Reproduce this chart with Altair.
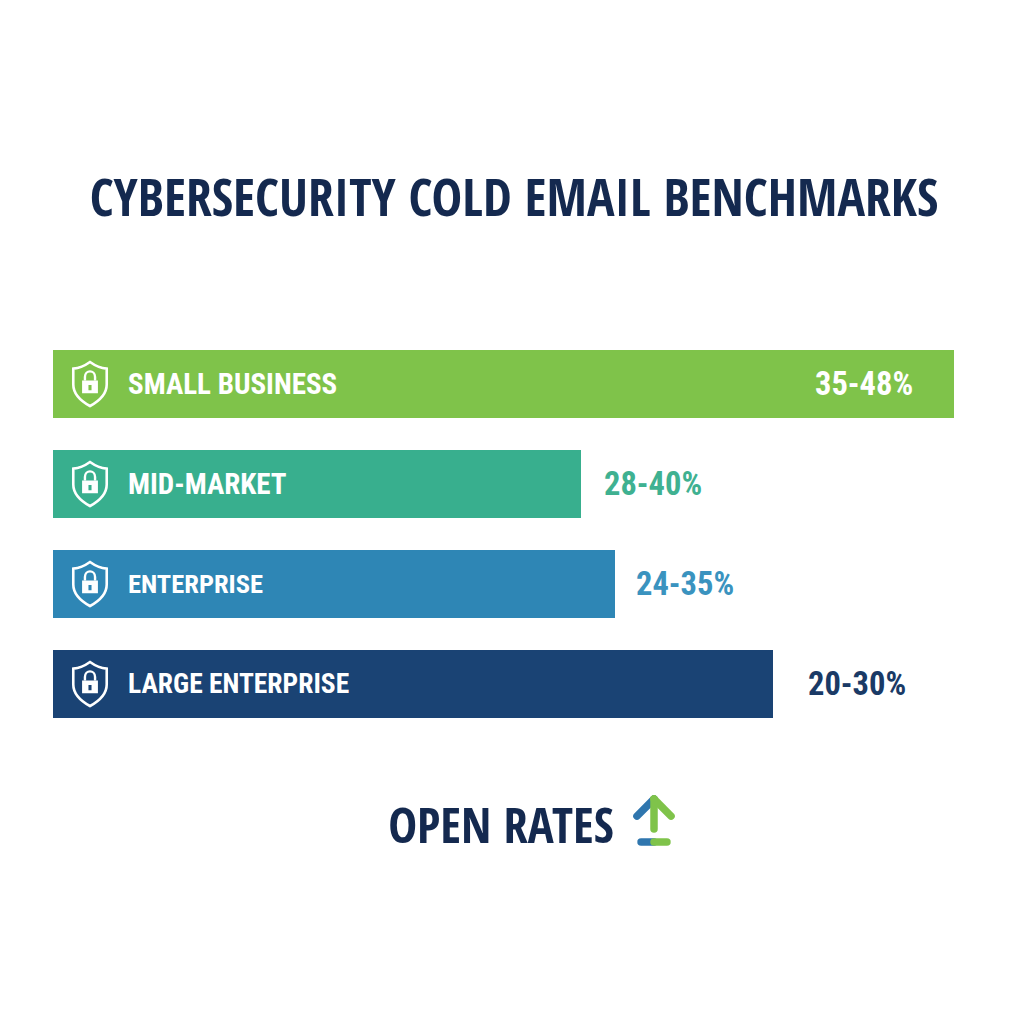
import altair as alt
import pandas as pd

# --- data ---
categories = ["SMALL BUSINESS", "MID-MARKET", "ENTERPRISE", "LARGE ENTERPRISE"]
bar_lengths = [901, 528, 562, 720]
range_labels = ["35-48%", "28-40%", "24-35%", "20-30%"]
title_text = "CYBERSECURITY COLD EMAIL BENCHMARKS"
footer_text = "OPEN RATES"

# --- styling ---
bar_colors = ["#7FC34A", "#38AF8E", "#2E86B5", "#1A4374"]
label_colors = ["#FFFFFF", "#3FB191", "#3A93BF", "#1A3A66"]
name_sizes = [29, 29, 26.5, 27.5]
label_dx = [-139, 23, 21, 35]
NAVY = "#14294F"
BLUE = "#2F76AE"
GREEN = "#7FC34A"
FONT = "Roboto Condensed"
HEAD_FONT = "Open Sans Condensed"
W = H = 1008
X0 = 45

SHIELD = ("M0,-1 C0.25,-0.82 0.5,-0.72 0.76,-0.7 L0.76,0.02 "
          "C0.76,0.45 0.4,0.78 0,1 C-0.4,0.78 -0.76,0.45 -0.76,0.02 L-0.76,-0.7 "
          "C-0.5,-0.72 -0.25,-0.82 0,-1 Z")
LOCK = ("M-0.36,-0.16 L0.36,-0.16 L0.36,0.42 L-0.36,0.42 Z "
        "M-0.07,0.04 L-0.07,0.28 L0.07,0.28 L0.07,0.04 Z")
SHACKLE = "M-0.23,-0.16 L-0.23,-0.32 C-0.23,-0.66 0.23,-0.66 0.23,-0.32 L0.23,-0.16"
ARROW_LEFT = "M-0.71,-0.29 L0,-1"
ARROW_RIGHT = "M0.71,-0.29 L0,-1"
ARROW_STEM = "M0,-1 L0,0.25"
BASE_LEFT = "M-0.54,0.79 L0,0.79"
BASE_RIGHT = "M0,0.79 L0.54,0.79"

df = pd.DataFrame({"category": categories, "length": bar_lengths, "label": range_labels})

x_scale = alt.Scale(domain=[-X0, W - X0], range=[0, W], nice=False, zero=False)
y_enc = alt.Y("category:N", sort=categories, axis=None,
              scale=alt.Scale(domain=categories, range=[342, 710], paddingInner=0.32, paddingOuter=0))

base = alt.Chart(df).properties(width=W, height=H)

bars = base.mark_bar(cornerRadius=0).encode(
    x=alt.X("zero:Q", scale=x_scale, axis=None),
    x2="length:Q",
    y=y_enc,
    color=alt.Color("category:N", sort=categories, legend=None,
                    scale=alt.Scale(domain=categories, range=bar_colors)),
).transform_calculate(zero="0")

name_layers = []
for i, cat in enumerate(categories):
    name_layers.append(
        base.transform_filter(alt.datum.category == cat)
        .mark_text(align="left", baseline="middle", font=FONT, fontSize=name_sizes[i],
                   fontWeight="bold", color="#FFFFFF", dy=1)
        .encode(x=alt.value(120), y=y_enc, text="category:N")
    )


def icon(path, **kw):
    return base.mark_point(shape=path, size=1936, **kw).encode(x=alt.value(82), y=y_enc)


shield = icon(SHIELD, filled=False, stroke="#FFFFFF", strokeWidth=2.6, opacity=1)
lock = icon(LOCK, filled=True, fill="#FFFFFF", opacity=1)
shackle = icon(SHACKLE, filled=False, stroke="#FFFFFF", strokeWidth=2.4, opacity=1)

value_layers = []
for i, cat in enumerate(categories):
    value_layers.append(
        base.transform_filter(alt.datum.category == cat)
        .mark_text(align="left", baseline="middle", font=FONT, fontSize=32.5,
                   fontWeight="bold", color=label_colors[i], dx=label_dx[i], dy=1)
        .encode(x=alt.X("length:Q", scale=x_scale, axis=None), y=y_enc, text="label:N")
    )

one = pd.DataFrame({"t": [title_text], "f": [footer_text]})
title = alt.Chart(one).mark_text(align="center", baseline="middle", font=HEAD_FONT, fontSize=51.6,
                                 fontWeight="bold", color=NAVY).encode(
    x=alt.value(506), y=alt.value(193), text="t:N")
footer = alt.Chart(one).mark_text(align="center", baseline="middle", font=HEAD_FONT, fontSize=48.6,
                                  fontWeight="bold", color=NAVY).encode(
    x=alt.value(493), y=alt.value(820), text="f:N")


def arrow(path, color):
    return alt.Chart(one).mark_point(shape=path, size=2304, filled=False, stroke=color,
                                     strokeWidth=7.5, strokeCap="round", opacity=1).encode(
        x=alt.value(646), y=alt.value(815))


chart = alt.layer(
    bars, *name_layers, shield, lock, shackle, *value_layers, title, footer,
    arrow(ARROW_LEFT, BLUE), arrow(ARROW_RIGHT, GREEN), arrow(ARROW_STEM, GREEN),
    arrow(BASE_LEFT, BLUE), arrow(BASE_RIGHT, GREEN),
).resolve_scale(color="independent").properties(
    width=W, height=H, padding=0, autosize=alt.AutoSizeParams(type="none"), background="#FFFFFF"
).configure_view(stroke=None)

chart.save("out.html", embed_options={"renderer": "svg", "actions": False})
